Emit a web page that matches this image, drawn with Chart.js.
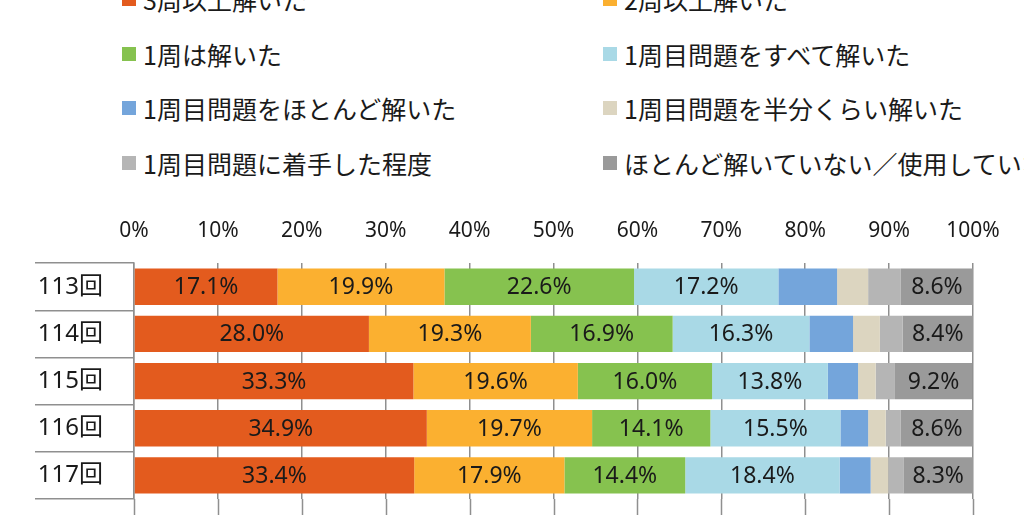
<!DOCTYPE html>
<html lang="ja">
<head>
<meta charset="utf-8">
<script src="https://cdn.jsdelivr.net/npm/chart.js@4.4.1/dist/chart.umd.min.js"></script>
<style>
  html, body { margin: 0; padding: 0; background: #fff; overflow: hidden; }
  #wrap { position: relative; width: 1024px; height: 515px; overflow: hidden; }
  #chart { position: absolute; left: 0; top: 0; }
  #legend {
    position: absolute; left: 122px; top: -28px;
    display: grid; grid-template-columns: 481px 481px;
    font-family: "Noto Sans CJK JP", "Noto Sans", sans-serif;
    font-size: 25px; color: #1a1a1a; white-space: nowrap;
  }
  #legend .item { height: 54.5px; display: flex; align-items: center; }
  #legend .box { width: 14px; height: 14px; margin-right: 7px; flex: none; }
</style>
</head>
<body>
<div id="wrap">
  <div id="legend"></div>
  <canvas id="chart" width="1024" height="515"></canvas>
</div>
<script>
// exam rounds
const categories = ['113回', '114回', '115回', '116回', '117回'];

const seriesNames = [
  '3周以上解いた',
  '2周以上解いた',
  '1周は解いた',
  '1周目問題をすべて解いた',
  '1周目問題をほとんど解いた',
  '1周目問題を半分くらい解いた',
  '1周目問題に着手した程度',
  'ほとんど解いていない／使用していない'
];
const seriesColors = ['#E35B1E', '#FBB030', '#86C24F', '#A9D9E6', '#74A5DB', '#DCD5C0', '#B5B5B5', '#9A9A9A'];

// percent values per round
const solved3plus = [17.1, 28.0, 33.3, 34.9, 33.4];
const solved2plus = [19.9, 19.3, 19.6, 19.7, 17.9];
const solved1 = [22.6, 16.9, 16.0, 14.1, 14.4];
const firstAll = [17.2, 16.3, 13.8, 15.5, 18.4];
const firstMost = [7.0, 5.2, 3.6, 3.3, 3.7];
const firstHalf = [3.7, 3.2, 2.1, 2.1, 2.1];
const firstStarted = [3.9, 2.7, 2.3, 1.8, 1.8];
const notUsed = [8.6, 8.4, 9.2, 8.6, 8.3];

const seriesValues = [solved3plus, solved2plus, solved1, firstAll, firstMost, firstHalf, firstStarted, notUsed];
// which series get a value label inside the bar
const labelled = [true, true, true, true, false, false, false, true];

const xTicks = [0, 10, 20, 30, 40, 50, 60, 70, 80, 90, 100];

const font = '"Noto Sans", "Noto Sans CJK JP", sans-serif';
const gridColor = '#8f8f8f';

// html legend, two columns like the original
const legendEl = document.getElementById('legend');
seriesNames.forEach((name, i) => {
  const item = document.createElement('div');
  item.className = 'item';
  const box = document.createElement('span');
  box.className = 'box';
  box.style.background = seriesColors[i];
  const txt = document.createElement('span');
  txt.textContent = name;
  item.appendChild(box);
  item.appendChild(txt);
  legendEl.appendChild(item);
});

// value labels in the middle of each segment
const valueLabels = {
  id: 'valueLabels',
  afterDatasetsDraw(chart) {
    const ctx = chart.ctx;
    ctx.save();
    ctx.font = '23px ' + font;
    ctx.fillStyle = '#1a1a1a';
    ctx.textAlign = 'center';
    ctx.textBaseline = 'middle';
    chart.data.datasets.forEach((ds, i) => {
      if (!labelled[i]) return;
      chart.getDatasetMeta(i).data.forEach((bar, j) => {
        const p = bar.getCenterPoint();
        ctx.fillText(ds.data[j].toFixed(1) + '%', p.x, p.y + 1);
      });
    });
    ctx.restore();
  }
};

// the vertical grid runs on past the last bar to the bottom edge
const extendGrid = {
  id: 'extendGrid',
  afterDraw(chart) {
    const ctx = chart.ctx;
    const x = chart.scales.x;
    ctx.save();
    ctx.strokeStyle = gridColor;
    ctx.lineWidth = 1.5;
    xTicks.forEach(v => {
      const px = Math.round(x.getPixelForValue(v)) + 0.5;
      ctx.beginPath();
      ctx.moveTo(px, chart.chartArea.bottom);
      ctx.lineTo(px, chart.height);
      ctx.stroke();
    });
    ctx.restore();
  }
};

new Chart(document.getElementById('chart'), {
  type: 'bar',
  data: {
    labels: categories,
    datasets: seriesNames.map((name, i) => ({
      label: name,
      data: seriesValues[i],
      backgroundColor: seriesColors[i],
      borderWidth: 0,
      barPercentage: 0.77,
      categoryPercentage: 1
    }))
  },
  options: {
    indexAxis: 'y',
    responsive: false,
    animation: false,
    devicePixelRatio: 1,
    layout: { padding: { top: 198, right: 51, bottom: 16, left: 0 } },
    plugins: {
      legend: { display: false },
      tooltip: { enabled: false }
    },
    scales: {
      x: {
        position: 'top',
        stacked: true,
        min: 0,
        max: 100,
        afterBuildTicks: s => { s.ticks = xTicks.map(v => ({ value: v })); },
        ticks: {
          callback: v => v + '%',
          font: { family: font, size: 21 },
          color: '#1a1a1a',
          padding: 20,
          maxRotation: 0
        },
        grid: { color: gridColor, lineWidth: 1.5, drawTicks: false },
        border: { display: false }
      },
      y: {
        stacked: true,
        afterFit: s => { s.width = 134; },
        ticks: {
          font: { family: font, size: 24 },
          color: '#1a1a1a',
          padding: -68
        },
        grid: {
          offset: true,
          drawOnChartArea: false,
          drawTicks: true,
          tickLength: 99,
          color: gridColor,
          lineWidth: 1.5
        },
        border: { display: true, color: gridColor, width: 1.5 }
      }
    }
  },
  plugins: [valueLabels, extendGrid]
});
</script>
</body>
</html>
